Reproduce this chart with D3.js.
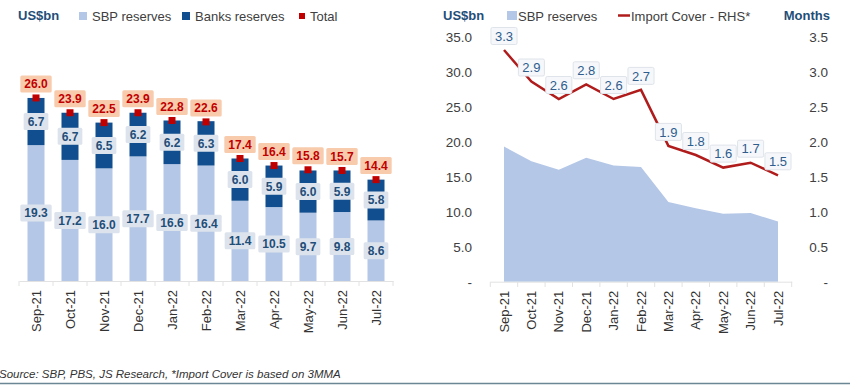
<!DOCTYPE html>
<html>
<head>
<meta charset="utf-8">
<script src="https://cdn.jsdelivr.net/npm/d3@7"></script>
<style>
body { margin: 0; background: #fff; }
svg { font-family: "Liberation Sans", Arial, sans-serif; display: block; }
</style>
</head>
<body>
<svg width="850" height="386"></svg>
<script>
var months = ["Sep-21", "Oct-21", "Nov-21", "Dec-21", "Jan-22", "Feb-22", "Mar-22", "Apr-22", "May-22", "Jun-22", "Jul-22"];
var sbpReserves = [19.3, 17.2, 16.0, 17.7, 16.6, 16.4, 11.4, 10.5, 9.7, 9.8, 8.6];
var banksReserves = [6.7, 6.7, 6.5, 6.2, 6.2, 6.3, 6.0, 5.9, 6.0, 5.9, 5.8];
var totalReserves = [26.0, 23.9, 22.5, 23.9, 22.8, 22.6, 17.4, 16.4, 15.8, 15.7, 14.4];
var importCover = [3.31, 2.86, 2.61, 2.82, 2.61, 2.74, 1.94, 1.81, 1.63, 1.70, 1.52];
var leftTicks = [0, 5, 10, 15, 20, 25, 30, 35];
var rightTicks = [0, 0.5, 1, 1.5, 2, 2.5, 3, 3.5];

var sbpColor = "#b4c7e7",
    banksColor = "#114e8f",
    redColor = "#c00000",
    navy = "#1f4e79";

var svg = d3.select("svg");

// small helper: text with a box behind it
function boxLabel(g, cx, cy, txt, fill, stroke, color, weight, size) {
    var lg = g.append("g");
    var t = lg.append("text")
        .attr("x", cx).attr("y", cy)
        .attr("dy", "0.36em")
        .attr("text-anchor", "middle")
        .style("font-size", size + "px")
        .style("font-weight", weight)
        .style("fill", color)
        .text(txt);
    var w = t.node().getComputedTextLength() + 8;
    lg.insert("rect", "text")
        .attr("x", cx - w / 2).attr("y", cy - 8.5)
        .attr("width", w).attr("height", 17)
        .attr("rx", 1.5)
        .style("fill", fill)
        .style("stroke", stroke);
}

function rotateLabels(axisG) {
    axisG.selectAll("text")
        .attr("transform", "rotate(-90)")
        .attr("x", -9).attr("y", 0)
        .attr("dy", "0.35em")
        .style("text-anchor", "end")
        .style("font-size", "13px")
        .style("fill", "#333");
}

// ---------- left chart: stacked bars ----------
var left = svg.append("g");

var x = d3.scaleBand()
    .domain(months)
    .range([19, 393])
    .paddingInner(0.5)
    .paddingOuter(0.25);

var y = d3.scaleLinear()
    .domain([0, 30])
    .range([281, 69.8]);

var rows = months.map(function(m, i) {
    return {name: m, sbp: sbpReserves[i], banks: banksReserves[i], total: totalReserves[i]};
});

// x axis
var xAxisL = left.append("g")
    .attr("transform", "translate(0,281)")
    .call(d3.axisBottom(x).tickSize(0).tickPadding(0));
xAxisL.select(".domain").style("stroke", "#e2e2e2");
rotateLabels(xAxisL);

// category separators
left.append("g").selectAll("line")
    .data(months.concat(["end"]))
    .enter().append("line")
    .attr("x1", function(d, i) { return 19 + i * x.step(); })
    .attr("x2", function(d, i) { return 19 + i * x.step(); })
    .attr("y1", 281).attr("y2", 286)
    .style("stroke", "#e2e2e2");

// bars
left.append("g").selectAll("rect")
    .data(rows).enter().append("rect")
    .attr("x", function(d) { return x(d.name); })
    .attr("width", x.bandwidth())
    .attr("y", function(d) { return y(d.sbp); })
    .attr("height", function(d) { return y(0) - y(d.sbp); })
    .style("fill", sbpColor);

left.append("g").selectAll("rect")
    .data(rows).enter().append("rect")
    .attr("x", function(d) { return x(d.name); })
    .attr("width", x.bandwidth())
    .attr("y", function(d) { return y(d.sbp + d.banks); })
    .attr("height", function(d) { return y(d.sbp) - y(d.sbp + d.banks); })
    .style("fill", banksColor);

// total markers
left.append("g").selectAll("rect")
    .data(rows).enter().append("rect")
    .attr("x", function(d) { return x(d.name) + x.bandwidth() / 2 - 3.5; })
    .attr("y", function(d) { return y(d.total) - 3.5; })
    .attr("width", 7).attr("height", 7)
    .style("fill", redColor);

// value labels
var labelsL = left.append("g");
rows.forEach(function(d) {
    var cx = x(d.name) + x.bandwidth() / 2;
    boxLabel(labelsL, cx, (y(0) + y(d.sbp)) / 2, d.sbp.toFixed(1), "#dde3ec", "none", navy, "bold", 12);
    boxLabel(labelsL, cx, (y(d.sbp) + y(d.sbp + d.banks)) / 2, d.banks.toFixed(1), "#dde3ec", "none", navy, "bold", 12);
    boxLabel(labelsL, cx, y(d.total) - 14, d.total.toFixed(1), "#f8cbad", "none", redColor, "bold", 12);
});

// legend
left.append("text")
    .attr("x", 18).attr("y", 20)
    .style("font-size", "13px").style("font-weight", "bold").style("fill", navy)
    .text("US$bn");

var legendL = [
    {name: "SBP reserves", color: sbpColor, x: 79},
    {name: "Banks reserves", color: banksColor, x: 182},
    {name: "Total", color: redColor, x: 299}
];
legendL.forEach(function(l) {
    var s = l.name == "Total" ? 6 : 8;
    left.append("rect")
        .attr("x", l.x).attr("y", 16 - s / 2)
        .attr("width", s).attr("height", s)
        .style("fill", l.color);
    left.append("text")
        .attr("x", l.x + s + 5).attr("y", 20.5)
        .style("font-size", "13px").style("fill", "#404040")
        .text(l.name);
});

// ---------- right chart: area + line ----------
var right = svg.append("g");

var x2 = d3.scaleBand()
    .domain(months)
    .range([490.3, 791.7]);

var yL = d3.scaleLinear().domain([0, 35]).range([281.7, 36.7]);
var yR = d3.scaleLinear().domain([0, 3.5]).range([281.7, 36.7]);

var cx2 = function(m) { return x2(m) + x2.bandwidth() / 2; };

// area for SBP reserves
var area = d3.area()
    .x(function(d, i) { return cx2(months[i]); })
    .y0(yL(0))
    .y1(function(d) { return yL(d); });

right.append("path")
    .datum(sbpReserves)
    .attr("d", area)
    .style("fill", sbpColor);

// axes
var axL = right.append("g")
    .attr("transform", "translate(472,0)")
    .call(d3.axisLeft(yL).tickValues(leftTicks).tickSize(0).tickPadding(0)
        .tickFormat(function(d) { return d == 0 ? "-  " : d3.format(".1f")(d); }));
axL.select(".domain").remove();
axL.selectAll("text").style("font-size", "13.5px").style("fill", "#404040");

var axR = right.append("g")
    .attr("transform", "translate(828,0)")
    .call(d3.axisLeft(yR).tickValues(rightTicks).tickSize(0).tickPadding(0)
        .tickFormat(function(d) { return d == 0 ? "-  " : d3.format(".1f")(d); }));
axR.select(".domain").remove();
axR.selectAll("text").style("font-size", "13.5px").style("fill", "#404040");

var xAxisR = right.append("g")
    .attr("transform", "translate(0,281.7)")
    .call(d3.axisBottom(x2).tickSize(0).tickPadding(0));
xAxisR.select(".domain").style("stroke", "#e2e2e2");
rotateLabels(xAxisR);

right.append("g").selectAll("line")
    .data(months.concat(["end"]))
    .enter().append("line")
    .attr("x1", function(d, i) { return 490.3 + i * x2.step(); })
    .attr("x2", function(d, i) { return 490.3 + i * x2.step(); })
    .attr("y1", 281.7).attr("y2", 287)
    .style("stroke", "#e2e2e2");

// import cover line
var line = d3.line()
    .x(function(d, i) { return cx2(months[i]); })
    .y(function(d) { return yR(d); });

right.append("path")
    .datum(importCover)
    .attr("d", line)
    .style("fill", "none")
    .style("stroke", "#b01c1c")
    .style("stroke-width", 2.5);

var labelsR = right.append("g");
importCover.forEach(function(v, i) {
    boxLabel(labelsR, cx2(months[i]), yR(v) - 14, v.toFixed(1), "#f5f7fa", "#dfe4ea", "#2e5d8e", "normal", 13);
});

// legend
right.append("text")
    .attr("x", 443).attr("y", 20)
    .style("font-size", "13px").style("font-weight", "bold").style("fill", navy)
    .text("US$bn");
right.append("text")
    .attr("x", 830).attr("y", 20)
    .attr("text-anchor", "end")
    .style("font-size", "13px").style("font-weight", "bold").style("fill", navy)
    .text("Months");
right.append("rect")
    .attr("x", 507).attr("y", 11)
    .attr("width", 10).attr("height", 9)
    .style("fill", sbpColor);
right.append("text")
    .attr("x", 518).attr("y", 20.5)
    .style("font-size", "13px").style("fill", "#404040")
    .text("SBP reserves");
right.append("line")
    .attr("x1", 618).attr("x2", 630)
    .attr("y1", 15.5).attr("y2", 15.5)
    .style("stroke", "#b01c1c").style("stroke-width", 2.5);
right.append("text")
    .attr("x", 631).attr("y", 20.5)
    .style("font-size", "13px").style("fill", "#404040")
    .text("Import Cover - RHS*");

// source + bottom rule
svg.append("text")
    .attr("x", -1).attr("y", 378)
    .style("font-size", "11.5px").style("font-style", "italic").style("fill", "#333")
    .text("Source: SBP, PBS, JS Research, *Import Cover is based on 3MMA");

svg.append("line")
    .attr("x1", 0).attr("x2", 850)
    .attr("y1", 383.5).attr("y2", 383.5)
    .style("stroke", "#6b8796").style("stroke-width", 1.5);
</script>
</body>
</html>
